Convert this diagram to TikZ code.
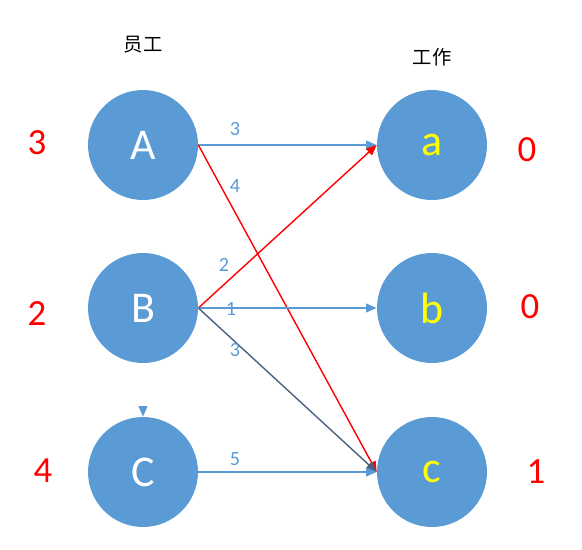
\documentclass[tikz,border=0pt]{standalone}
\usepackage{fontspec}
\setmainfont{Carlito}
\newfontfamily\cjk{Noto Sans CJK SC}
\usetikzlibrary{arrows.meta}
\definecolor{cfill}{HTML}{5B9BD5}
\definecolor{lblue}{HTML}{5B9BD5}
\definecolor{dblue}{HTML}{4A6180}
\definecolor{myred}{HTML}{FF0000}
\definecolor{myyellow}{HTML}{FFFF00}
\begin{document}
\begin{tikzpicture}[x=0.02cm,y=-0.02cm,
  circ/.style={circle,fill=cfill,minimum size=2.2cm,inner sep=0pt,font=\fontsize{25}{25}\selectfont},
  emp/.style={circ,text=white},
  job/.style={circ,text=myyellow},
  side/.style={text=myred,font=\fontsize{21}{21}\selectfont},
  elabel/.style={text=lblue,font=\fontsize{11.5}{12}\selectfont},
  head/.style={font=\cjk\fontsize{11}{12}\selectfont},
  arr/.style={-{Triangle[length=6pt,width=5pt]},line width=0.8pt},
  bl/.style={arr,draw=lblue},
  rd/.style={arr,draw=myred},
  db/.style={arr,draw=dblue}]
\useasboundingbox (0,0) rectangle (582,549);
\node[emp] (A) at (143,145) {A};
\node[emp] (B) at (143,308) {B};
\node[emp] (C) at (143,472) {C};
\node[job] (a) at (432,145) {a};
\node[job] (b) at (432,308) {b};
\node[job] (c) at (432,472) {c};
\node[head] (h1) at (143,45) {员工};
\node[head] (h2) at (432,57) {工作};
\node[side] (sA) at (37,143) {3};
\node[side] (sB) at (37,314) {2};
\node[side] (sC) at (43,471) {4};
\node[side] (sa) at (527,150) {0};
\node[side] (sb) at (530,307) {0};
\node[side] (sc) at (536,472) {1};
\draw[bl] (A.east) -- (a.west);
\draw[rd] (A.east) -- (c.west);
\draw[rd] (B.east) -- (a.west);
\draw[bl] (B.east) -- (b.west);
\draw[db] (B.east) -- (c.west);
\draw[bl] (C.east) -- (c.west);
\node[elabel] (l1) at (235,129) {3};
\node[elabel] (l2) at (235,186) {4};
\node[elabel] (l3) at (224,265) {2};
\node[elabel] (l4) at (231,309) {1};
\node[elabel] (l5) at (235,350) {3};
\node[elabel] (l6) at (235,459) {5};
\coordinate (ct) at (143,407);
\draw[bl] (ct) -- (C.north);
\end{tikzpicture}
\end{document}
